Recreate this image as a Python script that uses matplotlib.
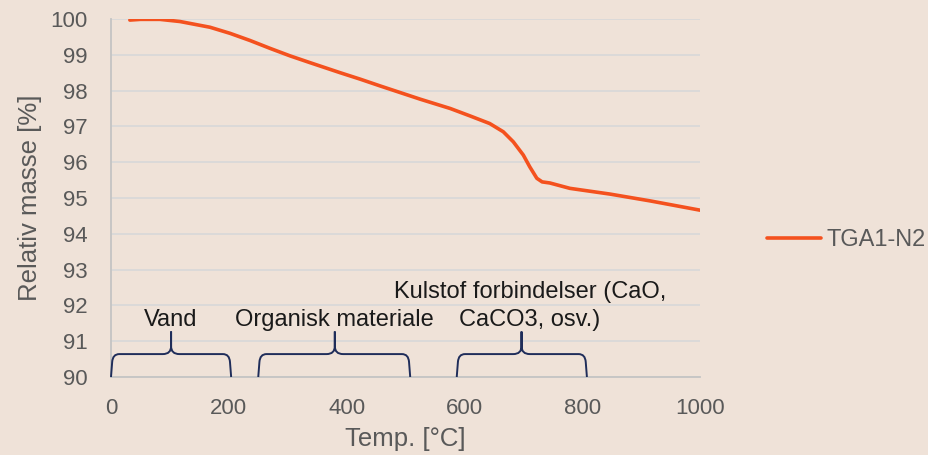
import matplotlib
matplotlib.use("Agg")
import matplotlib.pyplot as plt
from matplotlib.path import Path
from matplotlib.patches import PathPatch

# ---- data ----
temp = [32, 50, 83, 117, 168, 202, 236, 270, 304, 338, 389, 423, 457, 525,
        576, 610, 643, 666, 683, 700, 711, 723, 732, 745, 779, 847, 915, 1000]
mass = [99.97, 99.99, 99.99, 99.93, 99.77, 99.6, 99.4, 99.18, 98.97, 98.78,
        98.5, 98.32, 98.13, 97.76, 97.5, 97.29, 97.08, 96.85, 96.57, 96.2,
        95.87, 95.55, 95.45, 95.42, 95.27, 95.11, 94.92, 94.66]
series_name = "TGA1-N2"

x_ticks = [0, 200, 400, 600, 800, 1000]
y_ticks = [90, 91, 92, 93, 94, 95, 96, 97, 98, 99, 100]

brace_starts = [0, 250, 587]
brace_ends = [204, 508, 808]
brace_tips = [102, 380, 697]
brace_labels = ["Vand", "Organisk materiale", "Kulstof forbindelser (CaO,\nCaCO3, osv.)"]
label_centers = [102, 380, 711]

# ---- style ----
BG = "#efe2d8"
LINE = "#f4511e"
GRAY = "#595959"
NAVY = "#1f2d5a"

plt.rcParams['font.family'] = ['Liberation Sans', 'DejaVu Sans']

fig = plt.figure(figsize=(9.29, 4.55), dpi=100, facecolor=BG)
ax = fig.add_axes([111/929, 1-377/455, (700-111)/929, (377-19)/455])
ax.set_facecolor(BG)

ax.plot(temp, mass, color=LINE, lw=2.6, solid_capstyle='round',
        solid_joinstyle='round', label=series_name)

ax.set_xlim(0, 1000)
ax.set_ylim(90, 100)
ax.set_xticks(x_ticks)
ax.set_yticks(y_ticks)
ax.tick_params(axis='both', length=0, labelsize=16, colors=GRAY)
ax.tick_params(axis='x', pad=15)
ax.tick_params(axis='y', pad=17)
ax.grid(axis='y', color='#d9d9d9', lw=1.3)
ax.set_axisbelow(True)
for s in ['top', 'right']:
    ax.spines[s].set_visible(False)
for s in ['left', 'bottom']:
    ax.spines[s].set_color('#c4c4c4')
    ax.spines[s].set_linewidth(1.3)

ax.set_xlabel("Temp. [°C]", fontsize=18.5, color=GRAY, labelpad=6)
ax.set_ylabel("Relativ masse [%]", fontsize=18.5, color=GRAY, labelpad=6)

# braces
ybase, ymid, ytip = 90.0, 90.64, 91.27
rx, ry = 14, 0.22
for x0, x1, xm, xc, lab in zip(brace_starts, brace_ends, brace_tips,
                               label_centers, brace_labels):
    verts = [(x0, ybase), (x0 + 2, ymid - ry), (x0 + 3, ymid), (x0 + rx, ymid),
             (xm - rx, ymid), (xm, ymid), (xm, ymid + ry), (xm, ytip),
             (xm, ymid + ry), (xm, ymid), (xm + rx, ymid),
             (x1 - rx, ymid), (x1 - 3, ymid), (x1 - 2, ymid - ry), (x1, ybase)]
    codes = [Path.MOVETO, Path.LINETO, Path.CURVE3, Path.CURVE3,
             Path.LINETO, Path.CURVE3, Path.CURVE3, Path.LINETO,
             Path.LINETO, Path.CURVE3, Path.CURVE3,
             Path.LINETO, Path.CURVE3, Path.CURVE3, Path.LINETO]
    ax.add_patch(PathPatch(Path(verts, codes), fill=False, edgecolor=NAVY,
                           lw=1.4, clip_on=False, zorder=3))
    lines = lab.split("\n")
    for i, ln in enumerate(reversed(lines)):
        ax.text(xc, 91.42 + i * 0.78, ln, ha='center', va='baseline',
                fontsize=17, color='#1a1a1a')

leg = ax.legend(loc='center left', bbox_to_anchor=(767/929, 1-240/455),
                bbox_transform=fig.transFigure, frameon=False, fontsize=17,
                handlelength=2.3, handletextpad=0.2, borderpad=0, borderaxespad=0)
for t in leg.get_texts():
    t.set_color(GRAY)

fig.savefig("out.png", dpi=100, facecolor=BG)
